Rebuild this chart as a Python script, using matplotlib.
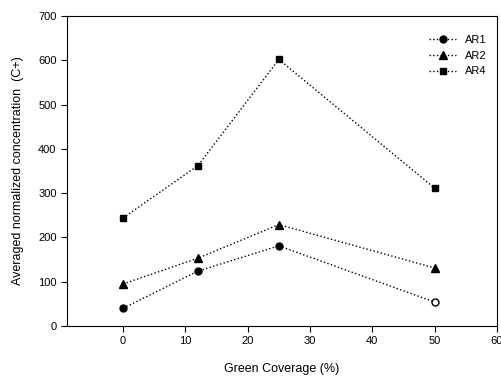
import numpy as np
import matplotlib.pyplot as plt

plt.rcParams['font.family'] = ['Liberation Sans', 'DejaVu Sans']

coverage = [0, 12, 25, 50]
ar1 = [40, 124, 181, 54]
ar2 = [95, 153, 229, 131]
ar4 = [244, 362, 602, 311]

fig = plt.figure(figsize=(5.01, 3.78), dpi=100)
ax = fig.add_axes([67/501, 1 - 326/378, 430/501, 310/378])

ax.plot(coverage[:3], ar1[:3], color="k", linestyle=":", linewidth=1.0, marker="o", markersize=5)
ax.plot(coverage[2:], ar1[2:], color="k", linestyle=":", linewidth=1.0)
ax.plot(coverage[3], ar1[3], color="k", marker="o", markersize=5, markerfacecolor="white", linestyle="none")
ax.plot([], [], color="k", linestyle=":", linewidth=1.0, marker="o", markersize=5, label="AR1")
ax.plot(coverage, ar2, color="k", linestyle=":", linewidth=1.0, marker="^", markersize=6, label="AR2")
ax.plot(coverage, ar4, color="k", linestyle=":", linewidth=1.0, marker="s", markersize=5, label="AR4")

ax.set_xlim(-9, 60)
ax.set_ylim(0, 700)
ax.set_xticks(np.arange(0, 61, 10))
ax.set_yticks(np.arange(0, 701, 100))
ax.tick_params(direction="out", labelsize=8, length=4)
ax.set_xlabel("Green Coverage (%)", fontsize=9, labelpad=12)
ax.set_ylabel("Averaged normalized concentration  (C+)", fontsize=9, labelpad=10)

ax.legend(loc="upper right", fontsize=8, frameon=False, handlelength=2.5, bbox_to_anchor=(1.0, 0.97))

fig.savefig("out.png", dpi=100)
